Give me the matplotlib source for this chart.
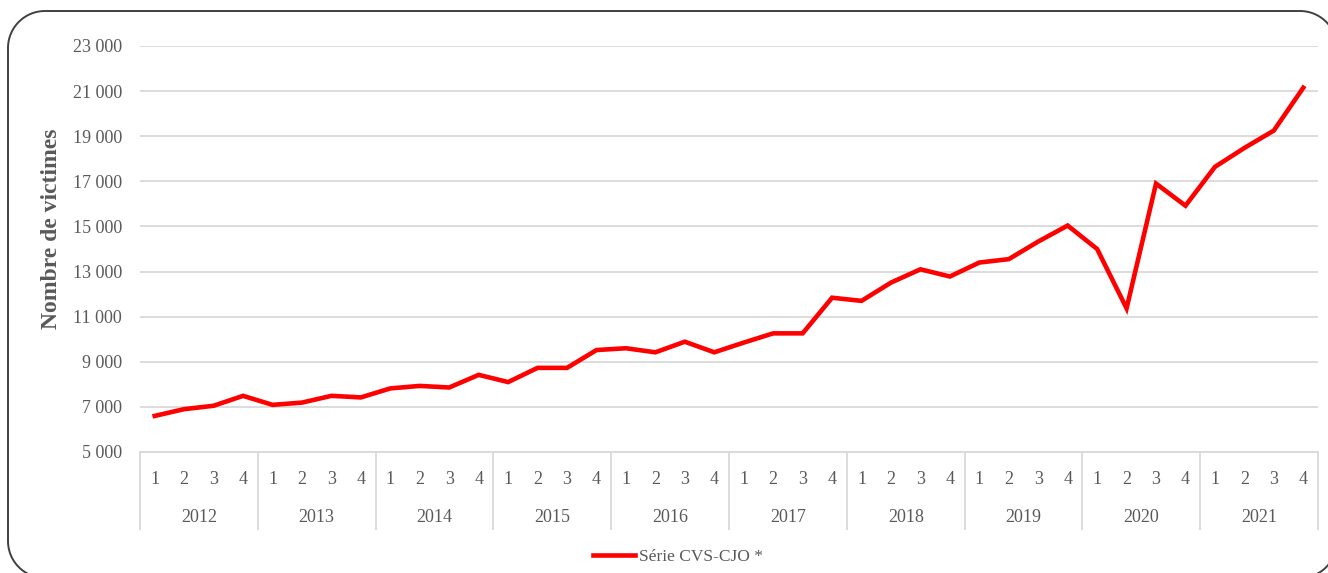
import matplotlib
matplotlib.use("Agg")
import numpy as np
from matplotlib import pyplot as plt
from matplotlib.patches import Polygon

years = ["2012", "2013", "2014", "2015", "2016", "2017", "2018", "2019", "2020", "2021"]
quarters = ["1", "2", "3", "4"]
victimes = [
    6600, 6900, 7050, 7490,
    7090, 7190, 7490, 7420,
    7820, 7930, 7860, 8420,
    8100, 8730, 8730, 9520,
    9600, 9420, 9890, 9420,
    9850, 10260, 10260, 11840,
    11700, 12510, 13100, 12780,
    13400, 13550, 14330, 15040,
    14000, 11370, 16900, 15920,
    17640, 18480, 19250, 21150,
]
yticks = [5000, 7000, 9000, 11000, 13000, 15000, 17000, 19000, 21000, 23000]
series_label = "Série CVS-CJO *"

txt = "#595959"
grid = "#d9d9d9"
font = ["Liberation Serif", "DejaVu Serif"]
plt.rcParams["font.family"] = font

W, H = 1328, 573
fig = plt.figure(figsize=(W / 100, H / 100), dpi=100)

# rounded frame round the whole chart, in inches so the corners stay round
x0, y0, x1, y1, r = 0.08, -0.05, 13.37, 5.62, 0.37
t = np.linspace(0, np.pi / 2, 30)
corners = [
    (x1 - r, y1 - r, t),               # top right
    (x0 + r, y1 - r, t + np.pi / 2),   # top left
    (x0 + r, y0 + r, t + np.pi),       # bottom left
    (x1 - r, y0 + r, t + 1.5 * np.pi), # bottom right
]
pts = np.vstack([np.column_stack([cx + r * np.cos(a), cy + r * np.sin(a)]) for cx, cy, a in corners])
frame = Polygon(pts, closed=True, transform=fig.dpi_scale_trans,
                facecolor="none", edgecolor="#404040", linewidth=1.4)
fig.patches.append(frame)

# plot area lined up with the reference pixels
left, right, top, bottom = 140, 1318, 46, 452
ax = fig.add_axes([left / W, 1 - bottom / H, (right - left) / W, (bottom - top) / H])
ax.set_facecolor("none")

x = np.arange(len(victimes))
line, = ax.plot(x, victimes, color="#ff0000", linewidth=3.3, solid_joinstyle="miter")

ax.set_xlim(-0.5, len(victimes) - 0.5)
ax.set_ylim(yticks[0], yticks[-1])
ax.set_yticks(yticks)
ax.set_yticklabels([f"{v:,}".replace(",", " ") for v in yticks])
ax.yaxis.grid(True, color=grid, linewidth=1.3)
ax.set_axisbelow(True)

for s in ["top", "right", "left"]:
    ax.spines[s].set_visible(False)
ax.spines["bottom"].set_color(grid)
ax.spines["bottom"].set_linewidth(1.3)

ax.tick_params(axis="y", length=0, pad=13, labelsize=13, labelcolor=txt)
ax.set_xticks(x)
ax.set_xticklabels(quarters * len(years))
ax.tick_params(axis="x", length=0, pad=14, labelsize=13, labelcolor=txt)

# year level of the category axis
ph = bottom - top
for i, yr in enumerate(years):
    ax.text(i * 4 + 1.5, -(517 - bottom) / ph, yr, transform=ax.get_xaxis_transform(),
            ha="center", va="center", fontsize=13, color=txt)
seps = np.arange(len(years) + 1) * 4 - 0.5
ax.vlines(seps, 0, -(530 - bottom) / ph, transform=ax.get_xaxis_transform(),
          colors=grid, linewidth=1.3, clip_on=False)

fig.text(52 / W, 1 - 229 / H, "Nombre de victimes", rotation=90, ha="center", va="center",
         fontsize=17, fontweight="bold", color=txt)

fig.legend([line], [series_label], loc="center", bbox_to_anchor=(678 / W, 1 - 557 / H),
           frameon=False, fontsize=12.5, labelcolor=txt, handlelength=2.4, handletextpad=0.2)

fig.savefig("out.png", dpi=100)
